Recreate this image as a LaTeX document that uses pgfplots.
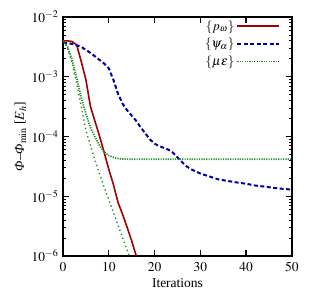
\documentclass[border=0pt]{standalone}
\usepackage{amsmath}
\usepackage{mathptmx}
\usepackage{fontspec}
\setmainfont{Liberation Serif}
\usepackage{pgfplots}
\pgfplotsset{compat=1.18}
\definecolor{cred}{RGB}{160,0,0}
\definecolor{cblue}{RGB}{0,0,160}
\definecolor{cgreen}{RGB}{34,139,34}
\newcommand{\fs}{\fontsize{13.5}{15}\selectfont}
\begin{document}
\fs
\begin{tikzpicture}[x=1pt,y=1pt]
\useasboundingbox (-63,-48) rectangle (256,256);
\begin{axis}[
  at={(0,0)}, anchor=south west,
  scale only axis, width=229pt, height=239pt,
  xmin=0, xmax=50, ymin=1e-6, ymax=1e-2,
  ymode=log,
  xtick={0,10,20,30,40,50},
  ytick={1e-6,1e-5,1e-4,1e-3,1e-2},
  tick align=inside,
  major tick length=6pt, minor tick length=3pt,
  axis line style={line width=2pt},
  every tick/.style={black, line width=1.4pt},
  every minor tick/.style={black, line width=0.9pt},
  xlabel={Iterations},
  ylabel={{\itshape Φ}–{\itshape Φ}$_{\min}$ [$E_h$]},
  xlabel style={yshift=3pt},
  ylabel style={yshift=-4pt},
  xticklabel style={yshift=-2pt},
  tick label style={font=\fs},
  label style={font=\fs},
  legend style={draw=none, fill=none, at={(0.95,0.995)}, anchor=north east,
    font=\fontsize{13}{14}\selectfont, row sep=2pt, inner sep=0pt, cells={anchor=east}},
  legend plot pos=right,
  legend image code/.code={\draw[#1] (0pt,0pt) -- (42pt,0pt);},
  clip=true,
]
\addplot[cred, line width=1.6pt] coordinates {
(0,3.98e-3) (1,3.98e-3) (2,3.89e-3) (3,3.39e-3) (4,1.78e-3) (5,8.91e-4)
(6,3.16e-4) (7,1.78e-4) (8,1.0e-4) (9,5.37e-5) (10,2.82e-5) (11,1.58e-5)
(12,7.94e-6) (13,5.01e-6) (14,3.02e-6) (15,1.78e-6) (16,1.0e-6) (17,5.62e-7)};
\addlegendentry{$\{p_\omega\}$}
\addplot[cblue, line width=2pt, dash pattern=on 4pt off 2.5pt] coordinates {
(0,3.72e-3) (2,3.55e-3) (4,3.16e-3) (6,2.51e-3) (8,1.91e-3) (9,1.66e-3)
(10,1.38e-3) (11,8.91e-4) (12,5.25e-4) (13,3.55e-4) (14,2.75e-4) (15,2.24e-4)
(16,1.82e-4) (17,1.41e-4) (18,1.12e-4) (19,8.91e-5) (20,7.59e-5) (21,6.92e-5)
(22,6.46e-5) (23,6.03e-5) (24,5.37e-5) (25,4.47e-5) (26,3.72e-5) (27,3.16e-5)
(28,2.82e-5) (30,2.40e-5) (32,2.14e-5) (34,1.91e-5) (36,1.80e-5) (38,1.70e-5)
(40,1.62e-5) (42,1.51e-5) (44,1.45e-5) (46,1.38e-5) (48,1.33e-5) (50,1.29e-5)};
\addlegendentry{$\{\psi_\alpha\}$}
\addplot[cgreen, line width=1.7pt, dash pattern=on 1.2pt off 1.2pt] coordinates {
(0,3.98e-3) (1,3.16e-3) (2,1.91e-3) (3,9.55e-4) (4,4.47e-4) (5,2.40e-4)
(6,1.41e-4) (7,9.77e-5) (8,7.08e-5) (9,5.50e-5) (10,4.79e-5) (11,4.47e-5)
(12,4.27e-5) (14,4.17e-5) (20,4.17e-5) (30,4.17e-5) (40,4.17e-5) (50,4.17e-5)};
\addlegendentry{$\{\mu\varepsilon\}$}
\addplot[cgreen, line width=1.4pt, dash pattern=on 1.3pt off 3pt, forget plot] coordinates {
(0,3.98e-3) (1,3.02e-3) (2,1.66e-3) (3,7.59e-4) (4,3.16e-4) (5,1.26e-4)
(6,7.08e-5) (7,3.98e-5) (8,2.34e-5) (9,1.41e-5) (10,8.71e-6) (11,5.37e-6)
(12,3.31e-6) (13,2.04e-6) (14,1.26e-6) (15,7.76e-7)};
\end{axis}
\end{tikzpicture}
\end{document}
